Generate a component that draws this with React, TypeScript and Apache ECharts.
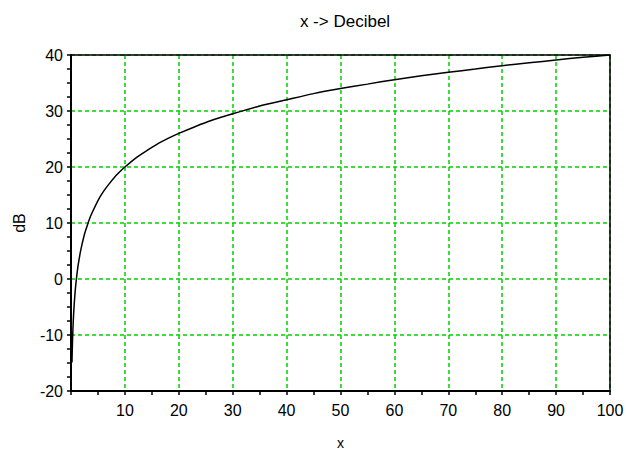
import React, { useEffect, useRef } from "react";
import * as echarts from "echarts";

// Sampled decibel curve: x value and its level in dB
const xValues = [
  0.18, 0.22, 0.28, 0.35, 0.45, 0.6, 0.8, 1, 1.3, 1.7, 2, 2.5, 3, 3.5, 4, 5, 6, 7, 8, 9, 10,
  12, 14, 16, 18, 20, 23, 26, 30, 35, 40, 45, 50, 55, 60, 65, 70, 75, 80, 85, 90, 95, 100,
];
const dbValues = [
  -14.9, -13.2, -11.1, -9.1, -6.9, -4.4, -1.9, 0, 2.3, 4.6, 6.0, 8.0, 9.5, 10.9, 12.0, 14.0,
  15.6, 16.9, 18.1, 19.1, 20.0, 21.6, 22.9, 24.1, 25.1, 26.0, 27.2, 28.3, 29.5, 30.9, 32.0,
  33.1, 34.0, 34.8, 35.6, 36.3, 36.9, 37.5, 38.1, 38.6, 39.1, 39.6, 40.0,
];

const titleText = "x -> Decibel";
const xName = "x";
const yName = "dB";
const xRange = [0, 100];
const yRange = [-20, 40];

const FONT = "'Liberation Sans', Arial, sans-serif";
const GRID_GREEN = "#00d000";

export default function App() {
  const ref = useRef<HTMLDivElement>(null);

  useEffect(() => {
    document.body.style.margin = "0";
    document.body.style.overflow = "hidden";
    if (!ref.current) return;
    const chart = echarts.init(ref.current, null, { renderer: "svg", width: 626, height: 450 });

    const data = xValues.map((x, i) => [x, dbValues[i]]);

    const splitLine = {
      show: true,
      lineStyle: { color: GRID_GREEN, type: [4, 3] as any, width: 1.5 },
    };

    chart.setOption({
      animation: false,
      backgroundColor: "#ffffff",
      title: {
        text: titleText,
        left: 340,
        textAlign: "center",
        top: 8,
        textStyle: { fontFamily: FONT, fontSize: 17, fontWeight: "normal", color: "#000" },
      },
      grid: {
        left: 71,
        right: 16,
        top: 55,
        bottom: 59,
        containLabel: false,
        outerBoundsMode: "none",
      },
      xAxis: [
        {
          type: "value",
          min: xRange[0],
          max: xRange[1],
          interval: 10,
          name: xName,
          nameLocation: "middle",
          nameGap: 45,
          nameTextStyle: { fontFamily: FONT, fontSize: 14, color: "#000" },
          axisLine: { show: true, onZero: false, lineStyle: { color: "#000", width: 2 } },
          axisTick: { show: true, inside: false, length: 4, lineStyle: { color: "#000", width: 1.5 } },
          minorTick: { show: true, splitNumber: 2, length: 4, lineStyle: { color: "#000", width: 1.5 } },
          axisLabel: {
            fontFamily: FONT,
            fontSize: 16,
            color: "#000",
            margin: 11,
            formatter: (v: number) => (v === 0 ? "" : String(v)),
          },
          splitLine,
        },
        {
          type: "value",
          position: "top",
          min: xRange[0],
          max: xRange[1],
          axisLine: { show: true, onZero: false, lineStyle: { color: "#000", width: 1.5 } },
          axisTick: { show: false },
          axisLabel: { show: false },
          splitLine: { show: false },
        },
      ],
      yAxis: [
        {
          type: "value",
          min: yRange[0],
          max: yRange[1],
          interval: 10,
          name: yName,
          nameLocation: "middle",
          nameGap: 44,
          nameTextStyle: { fontFamily: FONT, fontSize: 16, color: "#000" },
          axisLine: { show: true, onZero: false, lineStyle: { color: "#000", width: 2 } },
          axisTick: { show: true, inside: false, length: 4, lineStyle: { color: "#000", width: 1.5 } },
          minorTick: { show: true, splitNumber: 4, length: 4, lineStyle: { color: "#000", width: 1.5 } },
          axisLabel: { fontFamily: FONT, fontSize: 16, color: "#000", margin: 8 },
          splitLine,
        },
        {
          type: "value",
          position: "right",
          min: yRange[0],
          max: yRange[1],
          axisLine: { show: true, onZero: false, lineStyle: { color: "#000", width: 1.5 } },
          axisTick: { show: false },
          axisLabel: { show: false },
          splitLine: { show: false },
        },
      ],
      series: [
        {
          type: "line",
          data,
          xAxisIndex: 0,
          yAxisIndex: 0,
          showSymbol: false,
          smooth: 0.2,
          lineStyle: { color: "#000", width: 1.5 },
          z: 5,
        },
      ],
    });

    return () => chart.dispose();
  }, []);

  return (
    <div
      ref={ref}
      style={{ position: "fixed", left: 0, top: 0, width: 626, height: 450 }}
    />
  );
}
